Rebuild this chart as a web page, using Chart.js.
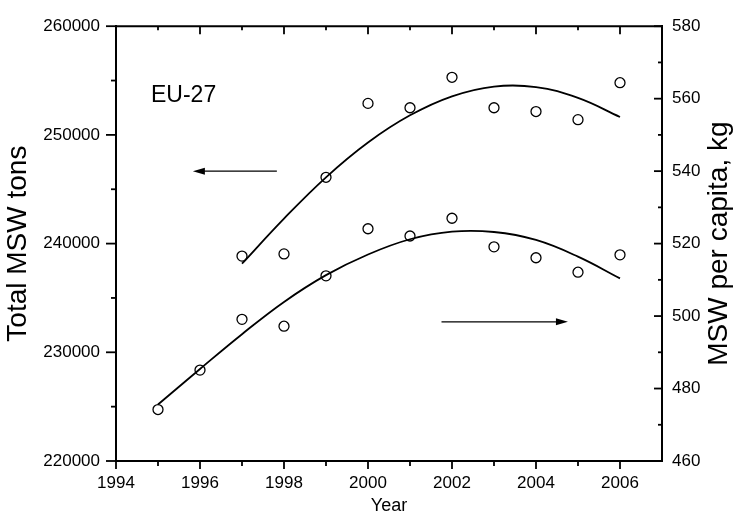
<!DOCTYPE html>
<html>
<head>
<meta charset="utf-8">
<title>EU-27 MSW</title>
<script src="https://cdn.jsdelivr.net/npm/chart.js@4/dist/chart.umd.min.js"></script>
<style>
    html, body { margin: 0; padding: 0; background: #fff; }
    #wrap { width: 736px; height: 525px; position: relative; }
</style>
</head>
<body>
<div id="wrap"><canvas id="mswChart"></canvas></div>
<script>
// ---- data ----
const years = [1995, 1996, 1997, 1998, 1999, 2000, 2001, 2002, 2003, 2004, 2005, 2006];

// total MSW, tons (left axis), measured points from 1997
const totalYears = [1997, 1998, 1999, 2000, 2001, 2002, 2003, 2004, 2005, 2006];
const totalTons = [238850, 239050, 246100, 252900, 252500, 255300, 252500, 252150, 251400, 254800];
// fitted curve for total MSW
const totalFit = [238150, 242300, 246100, 249300, 251800, 253550, 254450, 254400, 253400, 251650];

// MSW per capita, kg (right axis)
const perCapita = [474.2, 485.1, 499.1, 497.2, 511.1, 524.1, 522.1, 527.0, 519.1, 516.1, 512.1, 516.9];
// fitted curve for per capita
const perCapitaFit = [475.6, 485.4, 495.0, 503.9, 511.3, 517.0, 521.2, 523.3, 523.2, 521.0, 516.4, 510.4];

// axis ticks
const xTicks = [1994, 1996, 1998, 2000, 2002, 2004, 2006];
const xMinorTicks = [1995, 1997, 1999, 2001, 2003, 2005];
const leftTicks = [220000, 230000, 240000, 250000, 260000];
const leftMinorTicks = [225000, 235000, 245000, 255000];
const rightTicks = [460, 480, 500, 520, 540, 560, 580];
const rightMinorTicks = [470, 490, 510, 530, 550, 570];

// arrows pointing at the axis each series belongs to
const arrows = [
    { axis: 'y', from: [1997.83, 246660], to: [1995.83, 246660] },
    { axis: 'y2', from: [2001.75, 498.4], to: [2004.76, 498.4] }
];

const FONT = "'Liberation Sans', Arial, sans-serif";

/* ========================================
   Frame, tick marks, arrows and labels
   ======================================== */
const framePlugin = {
    id: 'frame',
    afterDraw(chart) {
        const { ctx, chartArea: a, scales } = chart;
        const sx = scales.x, sl = scales.y, sr = scales.y2;
        ctx.save();
        ctx.strokeStyle = '#000';
        ctx.fillStyle = '#000';

        // top border
        ctx.lineWidth = 2;
        ctx.beginPath();
        ctx.moveTo(a.left - 1, a.top);
        ctx.lineTo(a.right + 1, a.top);
        ctx.stroke();

        ctx.lineWidth = 1.8;
        const hTick = (v, y, len) => {
            const x = sx.getPixelForValue(v);
            ctx.beginPath();
            ctx.moveTo(x, y);
            ctx.lineTo(x, y + len);
            ctx.stroke();
        };
        const vTick = (scale, v, x, len) => {
            const y = scale.getPixelForValue(v);
            ctx.beginPath();
            ctx.moveTo(x, y);
            ctx.lineTo(x + len, y);
            ctx.stroke();
        };

        // bottom: outward, top: inward
        xTicks.forEach(v => { hTick(v, a.bottom, 8); hTick(v, a.top, 8); });
        xMinorTicks.forEach(v => { hTick(v, a.bottom, 5); hTick(v, a.top, 4); });
        // left: outward, right: inward
        leftTicks.forEach(v => vTick(sl, v, a.left, -10));
        leftMinorTicks.forEach(v => vTick(sl, v, a.left, -5));
        rightTicks.forEach(v => vTick(sr, v, a.right, -8));
        rightMinorTicks.forEach(v => vTick(sr, v, a.right, -4));

        // arrows
        ctx.lineWidth = 1.3;
        arrows.forEach(ar => {
            const sy = scales[ar.axis];
            const x1 = sx.getPixelForValue(ar.from[0]), y1 = sy.getPixelForValue(ar.from[1]);
            const x2 = sx.getPixelForValue(ar.to[0]), y2 = sy.getPixelForValue(ar.to[1]);
            const dir = Math.sign(x2 - x1);
            ctx.beginPath();
            ctx.moveTo(x1, y1);
            ctx.lineTo(x2 - dir * 8, y2);
            ctx.stroke();
            ctx.beginPath();
            ctx.moveTo(x2, y2);
            ctx.lineTo(x2 - dir * 12, y2 - 3.5);
            ctx.lineTo(x2 - dir * 12, y2 + 3.5);
            ctx.closePath();
            ctx.fill();
        });

        // region label
        ctx.font = '23px ' + FONT;
        ctx.textAlign = 'left';
        ctx.textBaseline = 'alphabetic';
        ctx.fillText('EU-27', a.left + 35, a.top + 76);

        // right axis title, reading bottom to top
        ctx.font = '28px ' + FONT;
        ctx.textAlign = 'center';
        ctx.textBaseline = 'middle';
        ctx.translate(719, (a.top + a.bottom) / 2);
        ctx.rotate(-Math.PI / 2);
        ctx.fillText('MSW per capita, kg', 0, 0);
        ctx.restore();
    }
};

/* ========================================
   Chart
   ======================================== */
const tickFont = { family: FONT, size: 17 };
const axisBorder = { display: true, color: '#000', width: 2 };

const scatterStyle = {
    showLine: false,
    pointStyle: 'circle',
    pointRadius: 5,
    pointBorderWidth: 1.3,
    pointBorderColor: '#000',
    pointBackgroundColor: 'rgba(0,0,0,0)'
};
const fitStyle = {
    borderColor: '#000',
    borderWidth: 1.8,
    pointRadius: 0,
    tension: 0.4,
    fill: false
};

new Chart(document.getElementById('mswChart'), {
    type: 'line',
    data: {
        datasets: [
            Object.assign({
                label: 'Total MSW',
                yAxisID: 'y',
                data: totalYears.map((yr, i) => ({ x: yr, y: totalTons[i] }))
            }, scatterStyle),
            Object.assign({
                label: 'Total MSW fit',
                yAxisID: 'y',
                data: totalYears.map((yr, i) => ({ x: yr, y: totalFit[i] }))
            }, fitStyle),
            Object.assign({
                label: 'MSW per capita',
                yAxisID: 'y2',
                data: years.map((yr, i) => ({ x: yr, y: perCapita[i] }))
            }, scatterStyle),
            Object.assign({
                label: 'MSW per capita fit',
                yAxisID: 'y2',
                data: years.map((yr, i) => ({ x: yr, y: perCapitaFit[i] }))
            }, fitStyle)
        ]
    },
    options: {
        responsive: true,
        maintainAspectRatio: false,
        animation: false,
        layout: { padding: { top: 19, left: 0, right: 0, bottom: 0 } },
        plugins: {
            legend: { display: false },
            tooltip: { enabled: false }
        },
        scales: {
            x: {
                type: 'linear',
                position: 'bottom',
                min: 1994,
                max: 2007,
                afterBuildTicks: s => { s.ticks = xTicks.map(v => ({ value: v })); },
                afterFit: s => { s.height = 64; },
                grid: { display: false, drawTicks: false },
                border: axisBorder,
                ticks: {
                    color: '#000',
                    font: tickFont,
                    padding: 12,
                    maxRotation: 0,
                    callback: v => String(v)
                },
                title: {
                    display: true,
                    text: 'Year',
                    color: '#000',
                    font: { family: FONT, size: 18 },
                    padding: { top: 0, bottom: 8 }
                }
            },
            y: {
                type: 'linear',
                position: 'left',
                min: 220000,
                max: 260000,
                afterBuildTicks: s => { s.ticks = leftTicks.map(v => ({ value: v })); },
                afterFit: s => { s.width = 116; },
                grid: { display: false, drawTicks: false },
                border: axisBorder,
                ticks: {
                    color: '#000',
                    font: tickFont,
                    padding: 16,
                    callback: v => String(v)
                },
                title: {
                    display: true,
                    text: 'Total MSW tons',
                    color: '#000',
                    font: { family: FONT, size: 28 },
                    padding: { top: 1, bottom: 0 }
                }
            },
            y2: {
                type: 'linear',
                position: 'right',
                min: 460,
                max: 580,
                afterBuildTicks: s => { s.ticks = rightTicks.map(v => ({ value: v })); },
                afterFit: s => { s.width = 74; },
                grid: { display: false, drawTicks: false },
                border: axisBorder,
                ticks: {
                    color: '#000',
                    font: tickFont,
                    padding: 10,
                    callback: v => String(v)
                }
            }
        }
    },
    plugins: [framePlugin]
});
</script>
</body>
</html>
